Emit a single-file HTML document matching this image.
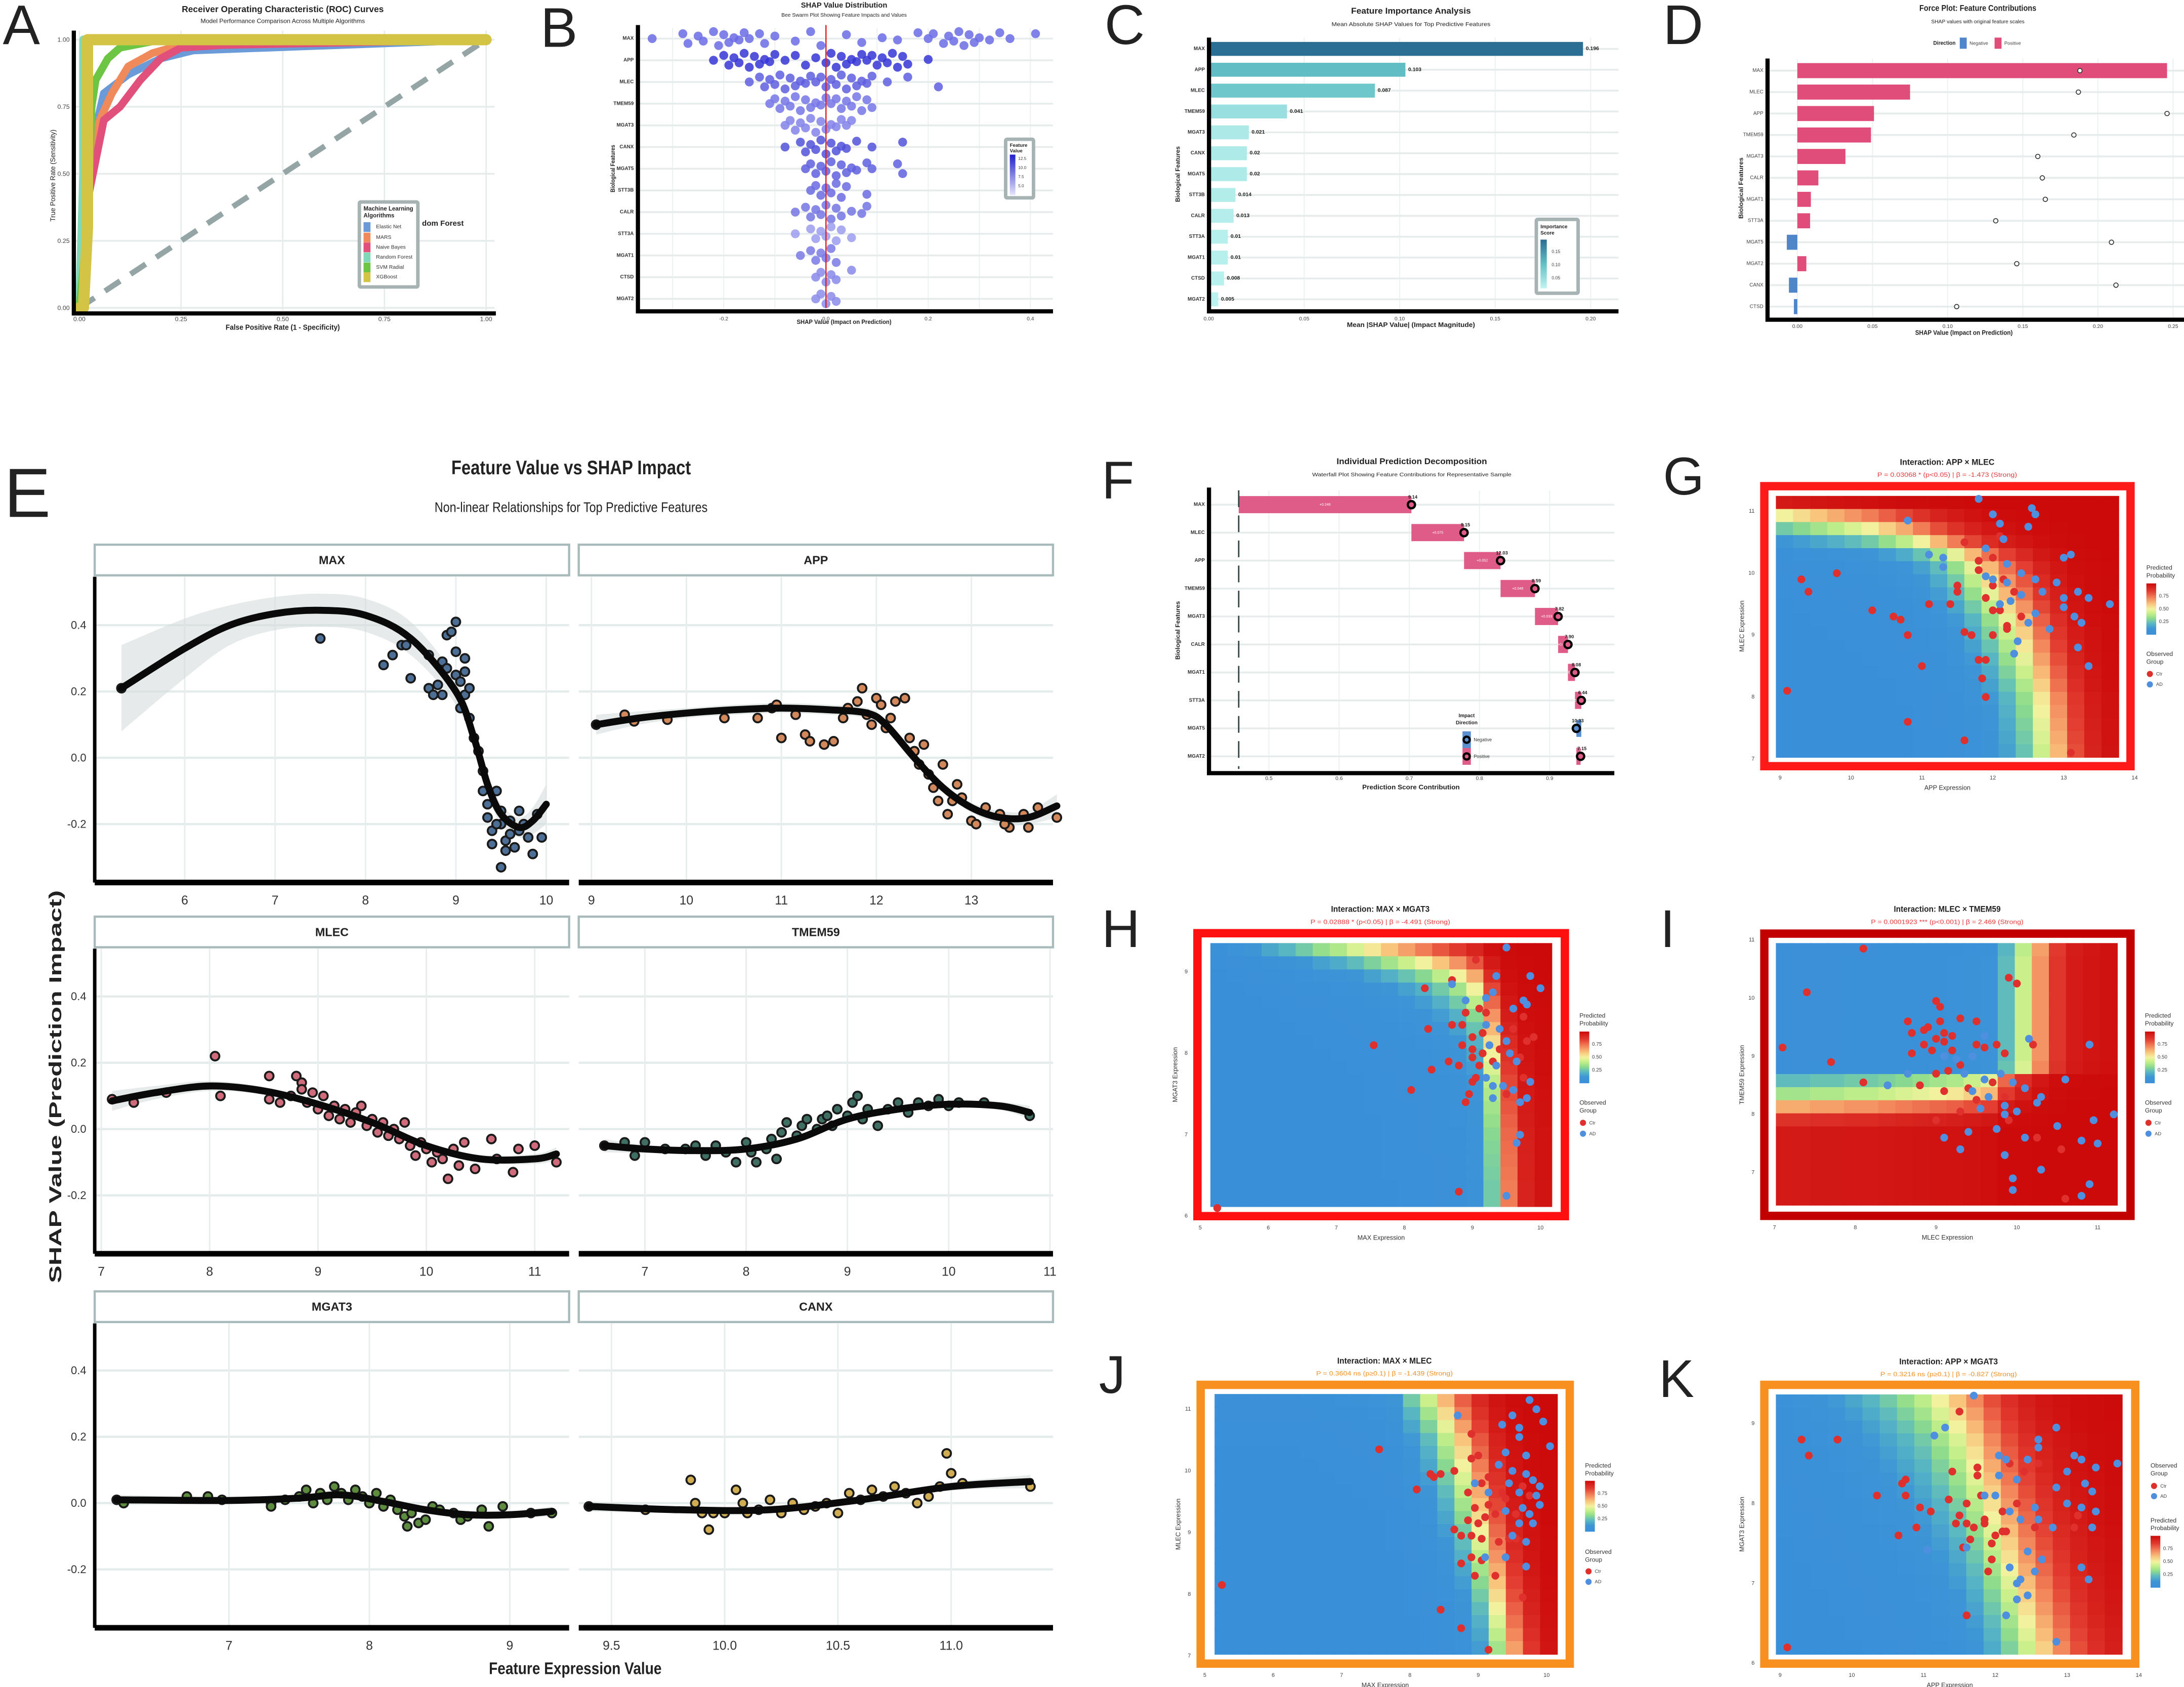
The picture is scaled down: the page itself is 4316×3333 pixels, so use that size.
<!DOCTYPE html>
<html><head><meta charset="utf-8">
<style>html,body{margin:0;padding:0;background:#fff}svg{display:block}text{font-family:"Liberation Sans",sans-serif}</style>
</head><body>
<svg id="fig" xmlns="http://www.w3.org/2000/svg" width="4316" height="3333" viewBox="0 0 1568 1211" preserveAspectRatio="none">
<rect x="0" y="0" width="1568" height="1211" fill="#fff"/>
</svg>
<script>
// ===== DATA =====
// Panel A ROC
const rocNames=['Elastic Net','MARS','Naive Bayes','Random Forest','SVM Radial','XGBoost'];
const rocElasticFpr=[0,0.03,0.06,0.12,0.2,0.28,1], rocElasticTpr=[0,0.6,0.8,0.87,0.93,0.96,1];
const rocMarsFpr=[0,0.03,0.05,0.08,0.12,0.18,0.25,1], rocMarsTpr=[0,0.6,0.7,0.8,0.9,0.95,0.98,1];
const rocNbFpr=[0,0.02,0.04,0.06,0.1,0.15,0.2,0.25,0.35,1], rocNbTpr=[0,0.4,0.55,0.7,0.75,0.85,0.93,0.97,0.98,1];
const rocRfFpr=[0,0.01,0.01,1], rocRfTpr=[0,0.5,1,1];
const rocSvmFpr=[0,0.02,0.03,0.04,0.07,0.1,0.2,1], rocSvmTpr=[0,0.3,0.75,0.85,0.93,0.97,1,1];
const rocXgbFpr=[0,0.01,0.02,0.02,1], rocXgbTpr=[0,0,0.3,1,1];
const rocTicks=[0,0.25,0.5,0.75,1];
// Panel B swarm
const swarmFeatures=['MAX','APP','MLEC','TMEM59','MGAT3','CANX','MGAT5','STT3B','CALR','STT3A','MGAT1','CTSD','MGAT2'];
const swarmVals=[
[-0.34,-0.28,-0.27,-0.25,-0.24,-0.22,-0.21,-0.2,-0.19,-0.18,-0.17,-0.16,-0.15,-0.13,-0.12,-0.1,-0.06,-0.03,-0.01,0.04,0.07,0.11,0.14,0.18,0.2,0.21,0.23,0.24,0.25,0.26,0.27,0.28,0.29,0.3,0.32,0.34,0.36,0.41],
[-0.22,-0.2,-0.19,-0.18,-0.17,-0.16,-0.15,-0.14,-0.13,-0.12,-0.11,-0.1,-0.08,-0.06,-0.04,-0.02,0,0.01,0.02,0.03,0.04,0.05,0.06,0.07,0.08,0.09,0.1,0.11,0.12,0.13,0.14,0.15,0.16,0.2],
[-0.15,-0.13,-0.12,-0.11,-0.1,-0.09,-0.08,-0.07,-0.06,-0.05,-0.04,-0.03,-0.02,-0.01,0,0.01,0.02,0.03,0.04,0.05,0.06,0.07,0.08,0.09,0.12,0.16,0.22],
[-0.11,-0.1,-0.09,-0.08,-0.07,-0.06,-0.05,-0.04,-0.03,-0.02,-0.01,0,0.01,0.02,0.03,0.04,0.05,0.06,0.07,0.08,0.09],
[-0.08,-0.07,-0.06,-0.05,-0.04,-0.03,-0.02,-0.01,0,0.01,0.02,0.03,0.04,0.05],
[-0.08,-0.05,-0.04,-0.03,-0.02,-0.01,0,0.01,0.02,0.03,0.04,0.06,0.09,0.15],
[-0.04,-0.03,-0.02,-0.01,0,0.01,0.02,0.03,0.04,0.05,0.06,0.08,0.09,0.14,0.15],
[-0.03,-0.02,-0.01,0,0.01,0.02,0.03,0.04,0.08],
[-0.06,-0.04,-0.03,-0.02,-0.01,0,0.01,0.02,0.03,0.05,0.07,0.08],
[-0.06,-0.03,-0.02,-0.01,0,0.01,0.02,0.03,0.05],
[-0.05,-0.03,-0.02,-0.01,0,0.01,0.02],
[-0.02,-0.01,0,0.01,0.02,0.05],
[-0.02,-0.01,0,0.01,0.02]];
const swarmTicks=[-0.2,0,0.2,0.4];
// Panel C importance
const impFeatures=['MAX','APP','MLEC','TMEM59','MGAT3','CANX','MGAT5','STT3B','CALR','STT3A','MGAT1','CTSD','MGAT2'];
const impValues=[0.196,0.103,0.087,0.041,0.021,0.02,0.02,0.014,0.013,0.01,0.01,0.008,0.005];
const impLabels=['0.196','0.103','0.087','0.041','0.021','0.02','0.02','0.014','0.013','0.01','0.01','0.008','0.005'];
const impTicks=[0,0.05,0.1,0.15,0.2];
// Panel D force
const forceFeatures=['MAX','MLEC','APP','TMEM59','MGAT3','CALR','MGAT1','STT3A','MGAT5','MGAT2','CANX','CTSD'];
const forceShap=[0.246,0.075,0.051,0.049,0.032,0.014,0.009,0.0085,-0.007,0.006,-0.0056,-0.0023];
const forcePoints=[0.188,0.187,0.246,0.184,0.160,0.163,0.165,0.132,0.209,0.146,0.212,0.106];
const forceTicks=[0,0.05,0.1,0.15,0.2,0.25];
// Panel F waterfall
const wfFeatures=['MAX','MLEC','APP','TMEM59','MGAT3','CALR','MGAT1','STT3A','MGAT5','MGAT2'];
const wfContrib=[0.246,0.075,0.052,0.049,0.033,0.014,0.010,0.009,-0.007,0.006];
const wfFeatVals=['9.14','9.15','12.03','8.59','7.82','7.90','8.08','6.44','10.33','7.15'];
const wfBase=0.457;
const wfTicks=[0.5,0.6,0.7,0.8,0.9];
// Panel E facets
const eMaxPts=[[5.3,0.21],[7.5,0.36],[8.2,0.28],[8.3,0.31],[8.4,0.34],[8.45,0.34],[8.5,0.24],[8.7,0.31],[8.7,0.21],[8.75,0.19],[8.8,0.22],[8.85,0.19],[8.85,0.29],[8.9,0.27],[8.9,0.37],[8.95,0.38],[9.0,0.41],[9.0,0.32],[9.0,0.25],[9.05,0.23],[9.05,0.15],[9.1,0.3],[9.1,0.26],[9.1,0.19],[9.15,0.21],[9.15,0.12],[9.2,0.06],[9.25,0.02],[9.3,-0.04],[9.3,-0.1],[9.35,-0.14],[9.35,-0.18],[9.4,-0.22],[9.4,-0.26],[9.45,-0.1],[9.5,-0.16],[9.5,-0.2],[9.55,-0.25],[9.55,-0.28],[9.6,-0.19],[9.6,-0.23],[9.65,-0.27],[9.7,-0.16],[9.7,-0.22],[9.75,-0.2],[9.8,-0.24],[9.85,-0.29],[9.9,-0.17],[9.95,-0.24],[9.5,-0.33],[9.45,-0.2]];
const eMaxCurve=[[5.3,0.21],[6,0.33],[6.5,0.40],[7,0.435],[7.5,0.445],[8,0.43],[8.5,0.36],[9,0.2],[9.2,0.06],[9.35,-0.08],[9.5,-0.17],[9.7,-0.21],[9.85,-0.19],[10,-0.14]];
const eMaxSe=[0.13,0.09,0.06,0.05,0.05,0.05,0.05,0.04,0.03,0.03,0.03,0.03,0.04,0.06];
const eAppPts=[[9.05,0.1],[9.35,0.13],[9.45,0.11],[9.8,0.115],[10.4,0.12],[10.75,0.12],[10.9,0.15],[10.95,0.16],[11.0,0.06],[11.15,0.13],[11.25,0.07],[11.3,0.05],[11.45,0.04],[11.55,0.05],[11.65,0.12],[11.7,0.15],[11.8,0.17],[11.85,0.21],[11.9,0.13],[11.95,0.1],[12.0,0.18],[12.05,0.16],[12.1,0.09],[12.15,0.12],[12.2,0.17],[12.3,0.18],[12.35,0.06],[12.4,0.02],[12.45,-0.02],[12.5,0.04],[12.55,-0.05],[12.6,-0.09],[12.65,-0.13],[12.7,-0.02],[12.75,-0.17],[12.8,-0.13],[12.9,-0.12],[13.0,-0.19],[13.05,-0.2],[13.15,-0.15],[13.3,-0.17],[13.4,-0.21],[13.55,-0.17],[13.6,-0.21],[13.35,-0.2],[13.7,-0.15],[13.9,-0.18],[12.85,-0.08]];
const eAppCurve=[[9.05,0.1],[9.5,0.12],[10,0.135],[10.5,0.145],[11,0.15],[11.5,0.145],[11.9,0.135],[12.1,0.1],[12.4,0.0],[12.7,-0.09],[13,-0.15],[13.3,-0.18],[13.6,-0.18],[13.9,-0.145]];
const eAppSe=[0.03,0.02,0.015,0.015,0.015,0.015,0.015,0.015,0.015,0.015,0.015,0.02,0.02,0.035];
const eMlecPts=[[7.1,0.09],[7.3,0.08],[7.6,0.11],[8.05,0.22],[8.1,0.1],[8.55,0.16],[8.55,0.09],[8.65,0.08],[8.75,0.1],[8.8,0.16],[8.85,0.14],[8.85,0.12],[8.9,0.08],[8.95,0.11],[9.0,0.06],[9.05,0.1],[9.1,0.04],[9.15,0.07],[9.2,0.03],[9.25,0.06],[9.3,0.02],[9.35,0.05],[9.4,0.07],[9.45,0.01],[9.5,0.03],[9.55,-0.01],[9.6,0.02],[9.65,-0.02],[9.7,0.0],[9.75,-0.03],[9.8,0.02],[9.85,-0.05],[9.9,-0.08],[9.95,-0.04],[10.0,-0.06],[10.05,-0.1],[10.1,-0.07],[10.15,-0.09],[10.2,-0.15],[10.25,-0.06],[10.3,-0.11],[10.35,-0.04],[10.45,-0.12],[10.6,-0.03],[10.65,-0.09],[10.8,-0.13],[10.85,-0.06],[11.0,-0.05],[11.2,-0.1]];
const eMlecCurve=[[7.1,0.085],[7.5,0.11],[8,0.13],[8.5,0.115],[9,0.075],[9.5,0.02],[10,-0.05],[10.5,-0.09],[11,-0.09],[11.2,-0.075]];
const eMlecSe=[0.03,0.02,0.015,0.012,0.01,0.01,0.01,0.012,0.015,0.02];
const eTmemPts=[[6.6,-0.05],[6.8,-0.04],[6.9,-0.08],[7.0,-0.04],[7.2,-0.06],[7.4,-0.06],[7.5,-0.05],[7.6,-0.08],[7.7,-0.05],[7.8,-0.07],[7.9,-0.1],[8.0,-0.04],[8.05,-0.07],[8.1,-0.1],[8.2,-0.06],[8.25,-0.03],[8.3,-0.09],[8.35,-0.01],[8.4,0.02],[8.5,-0.02],[8.55,0.01],[8.6,0.03],[8.7,0.0],[8.75,0.03],[8.8,0.04],[8.85,0.01],[8.9,0.06],[9.0,0.04],[9.05,0.08],[9.1,0.1],[9.15,0.03],[9.2,0.06],[9.3,0.01],[9.4,0.06],[9.5,0.08],[9.6,0.05],[9.7,0.08],[9.8,0.07],[9.9,0.09],[10.0,0.07],[10.1,0.08],[10.35,0.08],[10.8,0.04]];
const eTmemCurve=[[6.6,-0.05],[7,-0.06],[7.5,-0.065],[8,-0.06],[8.5,-0.03],[9,0.03],[9.5,0.06],[10,0.075],[10.5,0.07],[10.8,0.05]];
const eTmemSe=[0.02,0.012,0.01,0.01,0.01,0.01,0.01,0.01,0.012,0.02];
const eMgat3Pts=[[6.2,0.01],[6.25,0.0],[6.7,0.02],[6.85,0.02],[6.95,0.01],[7.3,0.0],[7.3,-0.01],[7.4,0.01],[7.5,0.02],[7.55,0.04],[7.6,0.0],[7.65,0.03],[7.7,0.01],[7.75,0.05],[7.8,0.03],[7.85,0.01],[7.9,0.04],[7.95,0.02],[8.0,0.0],[8.05,0.03],[8.1,-0.01],[8.15,0.01],[8.2,-0.02],[8.25,-0.04],[8.27,-0.07],[8.3,-0.03],[8.35,-0.06],[8.4,-0.05],[8.45,-0.01],[8.5,-0.02],[8.6,-0.03],[8.65,-0.05],[8.7,-0.04],[8.8,-0.02],[8.85,-0.07],[8.95,-0.01],[9.15,-0.03],[9.3,-0.03]];
const eMgat3Curve=[[6.2,0.01],[7,0.008],[7.5,0.015],[7.8,0.025],[8.1,0.005],[8.4,-0.02],[8.7,-0.035],[9.0,-0.035],[9.3,-0.025]];
const eMgat3Se=[0.015,0.01,0.008,0.008,0.008,0.008,0.008,0.01,0.015];
const eCanxPts=[[9.4,-0.01],[9.65,-0.02],[9.85,0.07],[9.87,0.0],[9.9,-0.03],[9.93,-0.08],[9.95,-0.03],[10.0,-0.03],[10.05,0.04],[10.08,0.0],[10.1,-0.03],[10.15,-0.02],[10.2,0.01],[10.25,-0.03],[10.3,0.0],[10.35,-0.02],[10.4,-0.01],[10.45,0.0],[10.5,-0.03],[10.55,0.03],[10.6,0.01],[10.65,0.04],[10.7,0.02],[10.75,0.05],[10.8,0.03],[10.85,0.0],[10.9,0.02],[10.95,0.05],[10.98,0.15],[11.0,0.09],[11.05,0.06],[11.35,0.05]];
const eCanxCurve=[[9.4,-0.01],[9.8,-0.02],[10.2,-0.02],[10.6,0.01],[11.0,0.05],[11.35,0.065]];
const eCanxSe=[0.015,0.01,0.008,0.01,0.012,0.02];
const eYTicks=[0.4,0.2,0.0,-0.2];
// Interaction heatmaps (logit contributions by column / row, top to bottom)
const gColLogit=[-4,-3.8,-3.6,-3.4,-3.2,-3.0,-2.7,-2.4,-2.0,-1.5,-1.0,-0.4,0.2,0.8,1.4,2.2,3.0,4.0,5.0,6.0];
const gRowLogit=[7,4,3,2,0.9,0.3,0,-0.3,-0.6,-0.9,-1.1,-1.3,-1.5,-1.7,-1.9,-2.1,-2.2,-2.3,-2.4,-2.5];
const hColLogit=[-6,-5.5,-5,-4.6,-4.3,-4,-3.7,-3.5,-3.2,-2.9,-2.6,-2.3,-2.0,-1.6,-1.2,-0.6,1,3,4.5,5.5];
const hRowLogit=[3,2,1.2,0.6,0.2,-0.2,-0.5,-0.8,-1,-1.2,-1.4,-1.5,-1.6,-1.7,-1.8,-1.85,-1.9,-1.95,-2,-2];
const iColLogit=[-2.5,-2.5,-2.4,-2.4,-2.3,-2.3,-2.2,-2.1,-2,-1.9,-1.8,-1.6,-1.4,-0.1,0.8,1.9,3,4,4.5,5];
const iRowLogit=[-1.2,-1.1,-1.1,-1.1,-1.1,-1.1,-1.1,-1.1,-1.1,-1,1.3,1.9,3.1,4.5,5.5,5.5,5.5,5.5,5.5,5.5];
const jColLogit=[-6,-6,-6,-6,-6,-5.8,-5.6,-5.4,-5.2,-5,-4.5,-3.5,-2.8,-2,-1.2,-0.2,1,2.3,3.5,5];
const jRowLogit=[2.5,2.2,1.9,1.6,1.4,1.2,1.0,0.8,0.6,0.4,0.2,0,-0.2,-0.4,-0.6,-0.8,-1,-1.2,-1.4,-1.6];
const kColLogit=[-3.4,-3.1,-2.8,-2.5,-2.2,-1.9,-1.6,-1.3,-1.0,-0.6,-0.2,0.3,0.9,1.5,2.1,2.7,3.3,3.9,4.5,5.1];
const kRowLogit=[0.6,0.4,0.2,0.0,-0.15,-0.3,-0.45,-0.6,-0.75,-0.9,-1.05,-1.2,-1.35,-1.5,-1.65,-1.8,-1.95,-2.1,-2.25,-2.4];
const gCtr=[[9.1,8.1],[9.3,9.9],[9.4,9.7],[9.8,10.0],[10.3,9.4],[10.6,9.3],[10.7,9.25],[10.8,9.0],[10.8,7.6],[11.0,8.5],[11.1,9.5],[11.4,9.5],[11.6,7.3],[11.6,10.5],[11.8,10.2],[11.5,9.8],[11.5,9.7],[11.6,9.05],[11.9,9.6],[12.0,9.4],[11.8,8.6],[11.9,8.6],[12.0,9.0],[12.1,9.4],[12.2,9.15],[12.0,9.8],[12.3,9.7],[11.9,8.0],[12.1,10.6],[11.85,8.3],[12.15,9.9],[13.1,7.1],[12.0,10.25],[11.7,9.0],[12.2,9.1],[12.4,9.3],[11.8,10.05]];
const gAd=[[11.8,11.2],[12.0,10.95],[12.55,11.05],[12.6,10.95],[10.8,10.85],[12.1,10.8],[12.5,10.75],[11.3,10.25],[11.1,10.3],[11.3,10.1],[11.9,9.95],[12.0,9.9],[12.2,9.85],[12.4,10.0],[12.6,9.9],[12.7,9.7],[12.9,9.85],[13.0,9.6],[13.2,9.7],[13.35,9.6],[13.15,9.3],[13.25,9.2],[13.0,9.45],[13.65,9.5],[12.1,9.5],[12.25,9.55],[12.4,9.65],[12.6,9.35],[12.35,8.9],[12.3,8.7],[13.2,8.8],[13.35,8.5],[12.8,9.1],[12.5,9.2],[13.0,10.25],[13.1,10.3],[12.2,10.15],[11.9,10.4],[12.15,10.55]];
const hCtr=[[5.25,6.1],[7.55,8.1],[8.35,8.3],[8.4,7.8],[8.1,7.55],[8.7,8.9],[8.7,8.35],[8.9,8.5],[8.3,8.8],[8.65,7.9],[8.8,7.85],[8.85,8.1],[8.85,8.35],[9.0,8.2],[9.0,8.05],[9.0,7.95],[9.1,8.55],[9.2,8.5],[9.15,8.0],[9.15,8.25],[9.3,7.9],[9.1,7.85],[9.0,7.65],[8.95,7.5],[9.05,7.7],[9.6,7.9],[9.8,8.15],[9.75,8.45],[9.6,8.3],[9.4,8.05],[9.9,8.2],[9.05,9.15],[8.8,6.3],[9.5,7.5],[9.75,7.7],[8.9,7.4],[9.7,7.95]];
const hAd=[[9.5,9.3],[9.35,8.95],[9.85,8.95],[10.0,8.8],[8.7,8.85],[8.9,8.65],[9.2,8.68],[9.3,8.75],[9.6,8.55],[9.8,8.6],[9.2,8.35],[9.4,8.3],[9.5,8.15],[9.55,8.0],[9.65,7.9],[9.25,8.1],[9.35,7.85],[9.2,7.7],[9.3,7.6],[9.6,7.55],[9.8,7.45],[9.85,7.65],[9.7,7.4],[9.3,7.45],[9.45,7.6],[9.7,7.0],[9.65,6.9],[9.5,6.25],[9.75,8.65]];
const iCtr=[[8.1,10.85],[7.4,10.1],[7.1,9.15],[7.7,8.9],[8.1,8.55],[9.0,9.95],[9.05,9.85],[8.65,9.6],[8.9,9.5],[9.05,9.6],[8.85,9.45],[9.1,9.4],[9.3,9.65],[9.5,9.6],[9.2,9.35],[9.0,9.3],[8.7,9.4],[9.1,9.25],[8.85,9.2],[8.7,9.05],[8.95,9.1],[9.2,9.1],[9.5,9.2],[9.75,9.2],[9.85,9.05],[9.6,9.15],[9.3,8.85],[9.15,8.75],[9.0,8.7],[8.8,8.5],[9.1,8.4],[9.4,8.45],[9.7,8.55],[9.85,8.3],[9.5,8.25],[9.3,8.05],[9.0,7.9],[9.9,7.9],[10.25,7.6],[10.55,7.4],[10.6,6.55],[9.9,10.35],[10.0,10.25],[10.2,9.2]];
const iAd=[[10.15,9.3],[9.6,9.35],[9.45,9.0],[9.25,8.95],[9.1,9.0],[8.65,8.7],[8.4,8.5],[9.35,8.7],[9.6,8.6],[9.8,8.7],[9.95,8.55],[10.1,8.45],[10.3,8.3],[9.45,8.4],[9.65,8.3],[10.25,8.2],[9.55,8.1],[9.85,8.0],[10.0,8.05],[9.75,7.75],[9.4,7.7],[9.1,7.6],[9.3,7.4],[9.85,7.3],[10.3,7.05],[10.1,7.6],[10.5,7.8],[10.8,7.55],[11.0,7.5],[11.2,8.0],[10.95,7.9],[10.9,9.2],[10.6,8.6],[10.9,6.8],[10.8,6.6],[9.95,6.9],[9.95,6.7],[9.85,8.15]];
const jCtr=[[5.25,8.15],[7.55,10.35],[8.3,9.95],[8.35,9.9],[8.45,9.95],[8.1,9.7],[8.65,10.0],[8.9,10.6],[9.0,10.25],[8.9,10.2],[8.85,9.65],[9.05,9.8],[9.15,9.9],[9.35,9.65],[8.95,9.4],[9.15,9.45],[9.25,9.3],[9.1,9.25],[8.85,9.2],[9.0,9.15],[8.65,9.05],[8.75,8.95],[8.9,8.95],[9.05,8.9],[9.3,8.85],[9.45,8.9],[9.55,8.9],[8.9,8.6],[9.05,8.55],[8.75,8.5],[8.95,8.3],[9.25,8.3],[8.45,7.75],[8.75,7.45],[9.15,7.1],[9.65,7.95],[9.55,9.3],[9.4,9.55],[9.75,9.6],[9.65,9.75]];
const jAd=[[8.7,10.9],[9.5,10.9],[9.75,11.15],[9.85,11.0],[9.95,10.8],[9.35,10.75],[9.6,10.7],[9.6,10.55],[10.05,10.4],[9.4,10.3],[9.7,10.25],[9.3,10.1],[9.5,10.0],[9.7,9.95],[9.8,9.85],[9.9,9.75],[9.45,9.8],[9.6,9.65],[9.85,9.6],[9.9,9.45],[9.65,9.4],[9.4,9.35],[9.75,9.3],[9.6,9.15],[9.8,9.15],[9.5,8.95],[9.7,8.85],[9.4,8.6],[9.7,8.45],[9.1,8.6],[8.95,9.8],[9.15,9.65]];
const kCtr=[[9.1,6.2],[9.3,8.8],[9.8,8.8],[9.4,8.6],[10.35,8.1],[10.65,7.6],[10.75,8.3],[10.7,8.25],[10.75,8.1],[10.9,7.7],[10.95,7.95],[11.1,7.9],[11.35,8.05],[11.5,7.85],[11.45,7.75],[11.5,9.15],[11.4,8.4],[11.6,8.0],[11.65,7.55],[11.7,7.7],[11.75,8.35],[11.75,8.45],[11.8,8.1],[11.85,7.75],[11.6,7.75],[11.55,7.45],[11.95,7.5],[12.1,7.65],[12.15,7.65],[11.95,7.3],[11.9,7.15],[12.0,7.6],[12.2,8.5],[12.1,7.9],[12.3,8.0],[12.4,8.4],[12.6,8.5],[12.55,7.7],[13.1,7.7],[13.15,7.85],[11.6,6.6],[11.85,7.8]];
const kAd=[[11.7,9.35],[11.3,8.95],[11.15,8.85],[12.05,8.6],[12.15,8.55],[12.45,8.55],[12.6,8.7],[12.6,8.8],[12.85,8.95],[13.1,8.6],[13.2,8.55],[13.0,8.4],[13.4,8.45],[13.7,8.5],[13.25,8.25],[13.35,8.15],[12.85,8.2],[13.0,8.0],[13.2,7.95],[13.4,7.9],[13.35,7.7],[12.3,8.3],[12.05,8.35],[12.0,8.1],[11.85,8.1],[12.2,7.9],[12.35,7.8],[12.55,7.95],[12.6,7.8],[12.8,7.7],[12.45,7.4],[12.65,7.3],[12.55,7.15],[12.2,7.2],[12.35,7.05],[13.2,7.2],[13.3,7.05],[12.3,7.0],[12.45,6.85],[12.15,6.6],[12.3,6.8],[12.85,6.27],[11.05,7.42],[11.6,7.45]];

// ===== HELPERS =====
const NS='http://www.w3.org/2000/svg';
const svg=document.getElementById('fig');
function mk(tag,attrs,parent){const e=document.createElementNS(NS,tag);for(const k in attrs)e.setAttribute(k,attrs[k]);(parent||svg).appendChild(e);return e;}
function tx(str,x,y,size,parent,opt){opt=opt||{};const a={x:x,y:y,'font-size':size,'dominant-baseline':'central','text-anchor':opt.anchor||'middle',fill:opt.fill||'#222'};if(opt.bold)a['font-weight']='bold';if(opt.len){a.textLength=opt.len;a.lengthAdjust='spacingAndGlyphs';}if(opt.rot)a.transform='rotate(-90 '+x+' '+y+')';if(opt.family)a['font-family']=opt.family;const e=mk('text',a,parent);e.textContent=str;return e;}
function lin(v,v0,p0,v1,p1){return p0+(v-v0)*(p1-p0)/(v1-v0);}
function grp(parent){return mk('g',{},parent);}
function smooth(pts){let d='M'+pts[0][0].toFixed(2)+','+pts[0][1].toFixed(2);for(let i=0;i<pts.length-1;i++){const p0=pts[i-1]||pts[i],p1=pts[i],p2=pts[i+1],p3=pts[i+2]||p2;const c1=[p1[0]+(p2[0]-p0[0])/6,p1[1]+(p2[1]-p0[1])/6],c2=[p2[0]-(p3[0]-p1[0])/6,p2[1]-(p3[1]-p1[1])/6];d+=' C'+c1[0].toFixed(2)+','+c1[1].toFixed(2)+' '+c2[0].toFixed(2)+','+c2[1].toFixed(2)+' '+p2[0].toFixed(2)+','+p2[1].toFixed(2);}return d;}
function hex(c){return [parseInt(c.slice(1,3),16),parseInt(c.slice(3,5),16),parseInt(c.slice(5,7),16)];}
const probStops=[[0,'#3a8fd9'],[0.12,'#3d95d6'],[0.22,'#5ab8c2'],[0.32,'#8edc8c'],[0.42,'#c8f08a'],[0.5,'#f2f29e'],[0.6,'#f9c47c'],[0.72,'#f2835a'],[0.85,'#e23c30'],[1,'#cc0a0a']];
function probColor(p){for(let i=1;i<probStops.length;i++){if(p<=probStops[i][0]){const a=probStops[i-1],b=probStops[i];const t=(p-a[0])/(b[0]-a[0]);const ca=hex(a[1]),cb=hex(b[1]);return 'rgb('+ca.map((v,k)=>Math.round(v+(cb[k]-v)*t)).join(',')+')';}}return probStops[probStops.length-1][1];}
const defs=mk('defs',{});
const pg=mk('linearGradient',{id:'probGrad',x1:0,y1:1,x2:0,y2:0},defs);
probStops.forEach(s=>mk('stop',{offset:s[0],'stop-color':s[1]},pg));
const bg=mk('linearGradient',{id:'blueGrad',x1:0,y1:1,x2:0,y2:0},defs);
mk('stop',{offset:0,'stop-color':'#e4e4fb'},bg);mk('stop',{offset:1,'stop-color':'#2020c8'},bg);
const tg=mk('linearGradient',{id:'tealGrad',x1:0,y1:1,x2:0,y2:0},defs);
mk('stop',{offset:0,'stop-color':'#c0f4f0'},tg);mk('stop',{offset:0.5,'stop-color':'#62c0c6'},tg);mk('stop',{offset:1,'stop-color':'#2a6c92'},tg);

// Panel letters
const letters=[['A',2,18,40],['B',388,20,40],['C',793,18,40],['D',1194,18,40],['E',3,354,50],['F',791,345,38],['G',1194,342,38],['H',791,667,38],['I',1192,667,38],['J',789,987,38],['K',1191,990,38]];
letters.forEach(L=>{const t=tx(L[0],L[1],L[2],L[3],svg,{anchor:'start'});

});

// ===== PANEL A =====
(function(){
const g=grp();


const X=v=>lin(v,0,57,1,349), Y=v=>lin(v,0,221,1,28.5);
rocTicks.forEach(t=>{const l=mk('line',{x1:X(t),x2:X(t),y1:22,y2:223,stroke:'#e6ecec','stroke-width':1},g);


const l2=mk('line',{x1:53,x2:355,y1:Y(t),y2:Y(t),stroke:'#e6ecec','stroke-width':1.3},g);


const a=tx(t.toFixed(2),X(t),229,4.5,g,{fill:'#444'});


const b=tx(t.toFixed(2),50,Y(t),4.5,g,{anchor:'end',fill:'#444'});

});
const diag=mk('line',{x1:X(0),y1:Y(0),x2:X(1),y2:Y(1),stroke:'#95a5a6','stroke-width':4,'stroke-dasharray':'13 9'},g);


const series=[[rocElasticFpr,rocElasticTpr,'#6a9ad8',5.5],[rocMarsFpr,rocMarsTpr,'#f08a5a',5.5],[rocNbFpr,rocNbTpr,'#e0507a',5.5],[rocRfFpr,rocRfTpr,'#7fd8b8',6],[rocSvmFpr,rocSvmTpr,'#6cc644',5.5],[rocXgbFpr,rocXgbTpr,'#d3c445',8]];
series.forEach((s,i)=>{let d='';s[0].forEach((f,k)=>{d+=(k?'L':'M')+X(f).toFixed(2)+','+Y(s[1][k]).toFixed(2);});
const p=mk('path',{d:d,fill:'none',stroke:s[2],'stroke-width':s[3],'stroke-linejoin':'round','stroke-linecap':'round'},g);

});
const ax=mk('path',{d:'M53,22 V225 H356',fill:'none',stroke:'#000','stroke-width':3},g);


let t=tx('Receiver Operating Characteristic (ROC) Curves',203,6.5,6.5,g,{bold:true,len:145});


t=tx('Model Performance Comparison Across Multiple Algorithms',203,15.5,4.2,g,{len:118});


t=tx('False Positive Rate (1 - Specificity)',203,235,5.5,g,{bold:true,len:82});


t=tx('True Positive Rate (Sensitivity)',38,126,5,g,{rot:true,len:66});


const lb=mk('rect',{x:258,y:145,width:42,height:61,fill:'#fff',stroke:'#a7b3b3','stroke-width':2.5,rx:1},g);


t=tx('Machine Learning',261,150,4.2,g,{anchor:'start',bold:true});


t=tx('Algorithms',261,155,4.2,g,{anchor:'start',bold:true});


const ly=[163,170.5,177.6,184.8,192,199];
series.forEach((s,i)=>{const r=mk('rect',{x:261,y:ly[i]-3.5,width:5,height:7,fill:s[2]},g);


const tt=tx(rocNames[i],270,ly[i],3.8,g,{anchor:'start',fill:'#333'});

});
t=tx('dom Forest',303,160.5,5.5,g,{anchor:'start',bold:true});


})();

// ===== PANEL B =====
(function(){
const g=grp();


const X=v=>593+v*367, Y=i=>27.7+i*15.57;
const jit=[0,-3.5,3.5,-1.8,1.8,-5,5,-2.8,2.8,-0.6,1,-4.2];
const rowColors=['#6b6be6','#3535d6','#5e5ee0','#7676e6','#8282ea','#5252dc','#6060e0','#6a6ae2','#7474e4','#9c9cee','#7a7ae6','#8a8aea','#8c8cea'];
[-0.3,-0.2,-0.1,0,0.1,0.2,0.3,0.4].forEach(t=>{const l=mk('line',{x1:X(t),x2:X(t),y1:20,y2:222,stroke:'#eef2f2','stroke-width':0.8},g);

});
swarmFeatures.forEach((f,i)=>{const l=mk('line',{x1:458,x2:756,y1:Y(i),y2:Y(i),stroke:'#e6ecec','stroke-width':1.3},g);


const t=tx(f,455,Y(i),3.6,g,{anchor:'end',bold:true,fill:'#333'});

});
swarmVals.forEach((row,i)=>{row.forEach((v,k)=>{const c=mk('circle',{cx:X(v).toFixed(2),cy:(Y(i)+jit[k%jit.length]).toFixed(2),r:3.2,fill:rowColors[i],'fill-opacity':0.85},g);

});});
const zl=mk('line',{x1:X(0),x2:X(0),y1:18,y2:221,stroke:'#e02020','stroke-width':0.9},g);


const ax=mk('path',{d:'M458,18 V223.5 H756',fill:'none',stroke:'#000','stroke-width':3},g);


swarmTicks.forEach(t=>{const a=tx(t.toFixed(1),X(t),229,3.8,g,{fill:'#444'});

});
let t=tx('SHAP Value Distribution',606,3.8,5.5,g,{bold:true,len:62});


t=tx('Bee Swarm Plot Showing Feature Impacts and Values',606,11,3.8,g,{len:90});


t=tx('SHAP Value (Impact on Prediction)',606,231,4.5,g,{bold:true,len:68});


t=tx('Biological Features',440,121,4.5,g,{rot:true,bold:true,len:34});


const lb=mk('rect',{x:722,y:100,width:20,height:42,fill:'#fff',stroke:'#a7b3b3','stroke-width':2.5,rx:1},g);


t=tx('Feature',725,104.5,3.5,g,{anchor:'start',bold:true});


t=tx('Value',725,108.5,3.5,g,{anchor:'start',bold:true});


const cb=mk('rect',{x:725,y:111,width:4,height:29,fill:'url(#blueGrad)'},g);


[['12.5',114],['10.0',120.5],['7.5',127],['5.0',133.5]].forEach(L=>{const a=tx(L[0],731,L[1],3,g,{anchor:'start',fill:'#444'});

});
})();

// ===== PANEL C =====
(function(){
const g=grp();


const X=v=>867.8+v*1371, Y=i=>35.1+i*14.98;
function tealColor(v){const s=[[0,'#c0f4f0'],[0.1,'#62c0c6'],[0.2,'#2a6c92']];const p=Math.min(v,0.2);const a=p<=0.1?s[0]:s[1],b=p<=0.1?s[1]:s[2];const tt=(p-a[0])/(b[0]-a[0]);const ca=hex(a[1]),cb=hex(b[1]);return 'rgb('+ca.map((q,k)=>Math.round(q+(cb[k]-q)*tt)).join(',')+')';}
impTicks.forEach(t=>{const l=mk('line',{x1:X(t),x2:X(t),y1:27,y2:222,stroke:'#eef2f2','stroke-width':0.8},g);


const a=tx(t.toFixed(2),X(t),229,3.8,g,{fill:'#444'});

});
impFeatures.forEach((f,i)=>{const l=mk('line',{x1:868,x2:1162,y1:Y(i),y2:Y(i),stroke:'#e6ecec','stroke-width':1.3},g);


const r=mk('rect',{x:868,y:Y(i)-5,width:X(impValues[i])-868,height:10,fill:tealColor(impValues[i])},g);


const v=tx(impLabels[i],X(impValues[i])+2,Y(i),3.8,g,{anchor:'start',bold:true});


const t=tx(f,865,Y(i),3.6,g,{anchor:'end',bold:true,fill:'#333'});

});
const ax=mk('path',{d:'M868,27 V223.5 H1162',fill:'none',stroke:'#000','stroke-width':3},g);


let t=tx('Feature Importance Analysis',1013,8,6,g,{bold:true,len:86});


t=tx('Mean Absolute SHAP Values for Top Predictive Features',1013,17.7,4,g,{len:114});


t=tx('Mean |SHAP Value| (Impact Magnitude)',1013,233,4.8,g,{bold:true,len:92});


t=tx('Biological Features',845.6,125,4.5,g,{rot:true,bold:true,len:40});


const lb=mk('rect',{x:1103,y:157.5,width:30,height:53,fill:'#fff',stroke:'#a7b3b3','stroke-width':2.5,rx:1},g);


t=tx('Importance',1106,163,3.6,g,{anchor:'start',bold:true});


t=tx('Score',1106,167.5,3.6,g,{anchor:'start',bold:true});


const cb=mk('rect',{x:1106,y:172,width:4.5,height:35,fill:'url(#tealGrad)'},g);


[['0.15',180.5],['0.10',190],['0.05',199.5]].forEach(L=>{const a=tx(L[0],1114,L[1],3.2,g,{anchor:'start',fill:'#444'});

});
})();

// ===== PANEL D =====
(function(){
const g=grp();


const X=v=>1290.4+v*1079, Y=i=>50.7+i*15.4;
forceTicks.forEach(t=>{const l=mk('line',{x1:X(t),x2:X(t),y1:42,y2:228,stroke:'#eef2f2','stroke-width':0.8},g);


const a=tx(t.toFixed(2),X(t),234.5,3.8,g,{fill:'#444'});

});
forceFeatures.forEach((f,i)=>{const l=mk('line',{x1:1269,x2:1568,y1:Y(i),y2:Y(i),stroke:'#e6ecec','stroke-width':1.3},g);


const v=forceShap[i];const r=mk('rect',{x:Math.min(X(0),X(v)),y:Y(i)-5.4,width:Math.abs(X(v)-X(0)),height:10.8,fill:v>=0?'#e04d7a':'#4f86c9'},g);


const c=mk('circle',{cx:X(forcePoints[i]),cy:Y(i),r:1.6,fill:'#fff',stroke:'#333','stroke-width':0.6},g);


const t=tx(f,1266,Y(i),3.6,g,{anchor:'end',fill:'#444'});

});
const ax=mk('path',{d:'M1269,42 V229.5 H1568',fill:'none',stroke:'#000','stroke-width':3},g);


let t=tx('Force Plot: Feature Contributions',1420,6,6,g,{bold:true,len:84});


t=tx('SHAP values with original feature scales',1420,15.8,3.8,g,{len:67});


t=tx('SHAP Value (Impact on Prediction)',1410,238.7,4.8,g,{bold:true,len:70});


t=tx('Biological Features',1250,135,4.5,g,{rot:true,bold:true,len:44});


t=tx('Direction',1396,31,4,g,{bold:true,len:16});


let r=mk('rect',{x:1407,y:27,width:5,height:8,fill:'#4f86c9'},g);


t=tx('Negative',1414,31,3.4,g,{anchor:'start',fill:'#444'});


r=mk('rect',{x:1432,y:27,width:5,height:8,fill:'#e04d7a'},g);


t=tx('Positive',1439,31,3.4,g,{anchor:'start',fill:'#444'});


})();

// ===== PANEL E =====
(function(){
const g=grp();


let t=tx('Feature Value vs SHAP Impact',410,336,14,g,{bold:true,len:172});


t=tx('Non-linear Relationships for Top Predictive Features',410,364,10,g,{len:196});


t=tx('SHAP Value (Prediction Impact)',40,780,12.5,g,{rot:true,bold:true,len:282});


t=tx('Feature Expression Value',413,1197.5,12,g,{bold:true,len:124});


const facets=[
{name:'MAX',col:0,row:0,v0:6,p0:132.6,ppu:64.9,ticks:[6,7,8,9,10],dec:0,pts:eMaxPts,curve:eMaxCurve,se:eMaxSe,color:'#4d6f96'},
{name:'APP',col:1,row:0,v0:9,p0:424.6,ppu:68.2,ticks:[9,10,11,12,13],dec:0,pts:eAppPts,curve:eAppCurve,se:eAppSe,color:'#d2885a'},
{name:'MLEC',col:0,row:1,v0:7,p0:72.7,ppu:77.8,ticks:[7,8,9,10,11],dec:0,pts:eMlecPts,curve:eMlecCurve,se:eMlecSe,color:'#cf6b7a'},
{name:'TMEM59',col:1,row:1,v0:7,p0:463,ppu:72.7,ticks:[7,8,9,10,11],dec:0,pts:eTmemPts,curve:eTmemCurve,se:eTmemSe,color:'#3f6e62'},
{name:'MGAT3',col:0,row:2,v0:7,p0:164.4,ppu:100.8,ticks:[7,8,9],dec:0,pts:eMgat3Pts,curve:eMgat3Curve,se:eMgat3Se,color:'#5e8c3e'},
{name:'CANX',col:1,row:2,v0:9.5,p0:439,ppu:162.6,ticks:[9.5,10,10.5,11],dec:1,pts:eCanxPts,curve:eCanxCurve,se:eCanxSe,color:'#d0ad52'}];
const colX=[[68,408.6],[415.5,756]];
const rowTop=[391,658,927], rowZero=[544,810.5,1079], rowBot=[633.5,900,1168.5];
facets.forEach(F=>{
const fg=grp(g);


const x0=colX[F.col][0],x1=colX[F.col][1],top=rowTop[F.row],zero=rowZero[F.row],bot=rowBot[F.row];
const X=v=>F.p0+(v-F.v0)*F.ppu, Y=s=>zero-s*238;
const strip=mk('rect',{x:x0,y:top,width:x1-x0,height:22,fill:'#fff',stroke:'#a9baba','stroke-width':1.6},fg);


let s=tx(F.name,(x0+x1)/2,top+11,8.5,fg,{bold:true});


eYTicks.forEach(v=>{const l=mk('line',{x1:x0,x2:x1,y1:Y(v),y2:Y(v),stroke:'#e4ebeb','stroke-width':1.6},fg);


if(F.col===0){const a=tx(v.toFixed(1),62,Y(v),8,fg,{anchor:'end',fill:'#333'});

}});
F.ticks.forEach(v=>{const l=mk('line',{x1:X(v),x2:X(v),y1:top+23,y2:bot,stroke:'#e8eeee','stroke-width':1.1},fg);


const a=tx(v.toFixed(F.dec),X(v),bot+13,9,fg,{fill:'#333'});

});
const up=F.curve.map((p,i)=>[X(p[0]),Y(p[1]+F.se[i])]);
const lo=F.curve.map((p,i)=>[X(p[0]),Y(p[1]-F.se[i])]).reverse();
const rib=mk('path',{d:smooth(up)+' '+smooth(lo).replace('M','L')+' Z',fill:'#d5dcdc','fill-opacity':0.6},fg);


F.pts.forEach(p=>{const c=mk('circle',{cx:X(p[0]).toFixed(2),cy:Y(p[1]).toFixed(2),r:3.1,fill:F.color,stroke:'#1a1a1a','stroke-width':1.4},fg);

});
const cv=mk('path',{d:smooth(F.curve.map(p=>[X(p[0]),Y(p[1])])),fill:'none',stroke:'#0a0a0a','stroke-width':5,'stroke-linecap':'round'},fg);


const bx=mk('line',{x1:x0,x2:x1,y1:bot,y2:bot,stroke:'#000','stroke-width':4},fg);


if(F.col===0){const ly=mk('line',{x1:x0,x2:x0,y1:top+23,y2:bot,stroke:'#000','stroke-width':2.5},fg);

}
});
})();

// ===== PANEL F =====
(function(){
const g=grp();


const X=v=>911+(v-0.5)*504, Y=i=>362.3+i*20.07;
wfTicks.forEach(t=>{const l=mk('line',{x1:X(t),x2:X(t),y1:352,y2:554,stroke:'#eef2f2','stroke-width':0.8},g);


const a=tx(t.toFixed(1),X(t),559,3.8,g,{fill:'#444'});

});
let cum=wfBase;
wfFeatures.forEach((f,i)=>{const l=mk('line',{x1:868,x2:1159,y1:Y(i),y2:Y(i),stroke:'#e6ecec','stroke-width':1.3},g);


const v=wfContrib[i];const s=cum,e=cum+v;cum=e;
const r=mk('rect',{x:X(Math.min(s,e)),y:Y(i)-6.2,width:Math.abs(X(e)-X(s)),height:12.3,fill:v>=0?'#e05c88':'#5a8fd0'},g);


const lab=tx((v>=0?'+':'')+v.toFixed(3),(X(s)+X(e))/2,Y(i),2.6,g,{fill:'#fff'});


const c=mk('circle',{cx:X(e),cy:Y(i),r:2.6,fill:v>=0?'#e05c88':'#5a8fd0',stroke:'#000','stroke-width':1.6},g);


const fv=tx(wfFeatVals[i],X(e)+1,Y(i)-5.5,3.4,g,{bold:true});


const t=tx(f,865,Y(i),3.6,g,{anchor:'end',bold:true,fill:'#333'});

});
const dl=mk('line',{x1:X(wfBase),x2:X(wfBase),y1:352,y2:552,stroke:'#2f3f3f','stroke-width':1,'stroke-dasharray':'12 6'},g);


const ax=mk('path',{d:'M868,350 V555 H1159',fill:'none',stroke:'#000','stroke-width':3},g);


let t=tx('Individual Prediction Decomposition',1013.6,331.4,6,g,{bold:true,len:108});


t=tx('Waterfall Plot Showing Feature Contributions for Representative Sample',1013.6,341,3.8,g,{len:143});


t=tx('Prediction Score Contribution',1013,565,4.8,g,{bold:true,len:70});


t=tx('Biological Features',845.6,452.5,4.5,g,{rot:true,bold:true,len:42});


t=tx('Impact',1053,514,3.6,g,{bold:true});


t=tx('Direction',1053,519,3.6,g,{bold:true});


[['Negative',531,'#5a8fd0'],['Positive',543,'#e05c88']].forEach(L=>{const r=mk('rect',{x:1050,y:L[1]-6,width:6,height:12,fill:L[2]},g);


const c=mk('circle',{cx:1053,cy:L[1],r:2.2,fill:'none',stroke:'#000','stroke-width':1.6},g);


const tt=tx(L[0],1058,L[1],3.3,g,{anchor:'start',fill:'#333'});

});
})();

// ===== HEATMAPS G-K =====
const heatPanels=[
{id:'g',title:'Interaction: APP × MLEC',sub:'P = 0.03068 * (p<0.05) | β = -1.473 (Strong)',subColor:'#e8383a',frameColor:'#ff1a1a',frame:[1263.7,346.5,1532.6,552.5],heat:[1275,356,1521,543.5],tx:[9,1278,14,1532.6],ty:[11,367,7,544.8],xt:[9,10,11,12,13,14],yt:[7,8,9,10,11],xlab:'APP Expression',ylab:'MLEC Expression',col:gColLogit,row:gRowLogit,ctr:gCtr,ad:gAd,titleY:331.9,cx:1398,leg:{x:1541,pred:407.5,bar:[418.8,455.6],obs:469.5,d1:483.8,d2:491.3}},
{id:'h',title:'Interaction: MAX × MGAT3',sub:'P = 0.02888 * (p<0.05) | β = -4.491 (Strong)',subColor:'#e8383a',frameColor:'#ff1010',frame:[856.7,667.4,1126.5,875.5],heat:[869,677,1114,866],tx:[5,861.7,10,1106],ty:[9,697.7,6,873],xt:[5,6,7,8,9,10],yt:[6,7,8,9],xlab:'MAX Expression',ylab:'MGAT3 Expression',col:hColLogit,row:hRowLogit,ctr:hCtr,ad:hAd,titleY:652.8,cx:991,leg:{x:1134,pred:729,bar:[740.5,777.6],obs:791.5,d1:806,d2:813.8}},
{id:'i',title:'Interaction: MLEC × TMEM59',sub:'P = 0.0001923 *** (p<0.001) | β = 2.469 (Strong)',subColor:'#e8383a',frameColor:'#c20000',frame:[1263.7,667.7,1532.6,875.3],heat:[1275,677,1520,865],tx:[7,1274,11,1506],ty:[11,674.7,7,841.7],xt:[7,8,9,10,11],yt:[7,8,9,10,11],xlab:'MLEC Expression',ylab:'TMEM59 Expression',col:iColLogit,row:iRowLogit,ctr:iCtr,ad:iAd,titleY:652.8,cx:1398,leg:{x:1540,pred:729,bar:[740.5,777.6],obs:791.5,d1:806,d2:813.8}},
{id:'j',title:'Interaction: MAX × MLEC',sub:'P = 0.3604 ns (p≥0.1) | β = -1.439 (Strong)',subColor:'#f39020',frameColor:'#f7901e',frame:[859,991.6,1130,1196.7],heat:[872,1000.7,1118,1187.4],tx:[5,865,10,1110.4],ty:[11,1011.6,7,1188.7],xt:[5,6,7,8,9,10],yt:[7,8,9,10,11],xlab:'MAX Expression',ylab:'MLEC Expression',col:jColLogit,row:jRowLogit,ctr:jCtr,ad:jAd,titleY:977,cx:994,leg:{x:1138,pred:1052,bar:[1063,1099.5],obs:1114,d1:1128,d2:1135.5}},
{id:'k',title:'Interaction: APP × MGAT3',sub:'P = 0.3216 ns (p≥0.1) | β = -0.827 (Strong)',subColor:'#f39020',frameColor:'#f7901e',frame:[1263.7,991.6,1536,1196.7],heat:[1275,1001,1523.5,1187.4],tx:[9,1278,14,1535.6],ty:[9,1021.9,6,1194],xt:[9,10,11,12,13,14],yt:[6,7,8,9],xlab:'APP Expression',ylab:'MGAT3 Expression',col:kColLogit,row:kRowLogit,ctr:kCtr,ad:kAd,titleY:977.5,cx:1399,leg:{x:1544,pred:1091.4,bar:[1102.5,1139.7],obs:1052,d1:1066.7,d2:1074}}];
heatPanels.forEach(P=>{
const g=grp();


const X=v=>lin(v,P.tx[0],P.tx[1],P.tx[2],P.tx[3]), Y=v=>lin(v,P.ty[0],P.ty[1],P.ty[2],P.ty[3]);
const f=P.frame;
const bgr=mk('rect',{x:f[0],y:f[1],width:f[2]-f[0],height:f[3]-f[1],fill:'#fff'},g);


const h=P.heat,nc=P.col.length,nr=P.row.length,cw=(h[2]-h[0])/nc,ch=(h[3]-h[1])/nr;
P.row.forEach((rl,j)=>{P.col.forEach((cl,i)=>{const p=1/(1+Math.exp(-(cl+rl)));
const c=mk('rect',{x:(h[0]+i*cw).toFixed(2),y:(h[1]+j*ch).toFixed(2),width:(cw+0.4).toFixed(2),height:(ch+0.4).toFixed(2),fill:probColor(p)},g);

});});
P.ctr.forEach(p=>{const c=mk('circle',{cx:X(p[0]).toFixed(2),cy:Y(p[1]).toFixed(2),r:2.8,fill:'#e0302e'},g);

});
P.ad.forEach(p=>{const c=mk('circle',{cx:X(p[0]).toFixed(2),cy:Y(p[1]).toFixed(2),r:2.8,fill:'#4f8fdf'},g);

});
const fr=mk('rect',{x:f[0]+3,y:f[1]+2.5,width:f[2]-f[0]-6,height:f[3]-f[1]-5,fill:'none',stroke:P.frameColor,'stroke-width':6},g);


P.xt.forEach(v=>{const a=tx(String(v),X(v),f[3]+6,4,g,{fill:'#444'});

});
P.yt.forEach(v=>{const a=tx(String(v),f[0]-4,Y(v),4,g,{anchor:'end',fill:'#444'});

});
let t=tx(P.xlab,(f[0]+f[2])/2,f[3]+13,4.6,g,{fill:'#333'});


t=tx(P.ylab,f[0]-13,(f[1]+f[3])/2,4.6,g,{rot:true,fill:'#333'});


t=tx(P.title,P.cx,P.titleY,6,g,{bold:true,len:P.title.length*2.95});


t=tx(P.sub,P.cx,P.titleY+9,4.4,g,{fill:P.subColor,len:P.sub.length*2.28});


const L=P.leg;
t=tx('Predicted',L.x,L.pred,4.4,g,{anchor:'start',fill:'#333'});


t=tx('Probability',L.x,L.pred+5.6,4.4,g,{anchor:'start',fill:'#333'});


const cb=mk('rect',{x:L.x,y:L.bar[0],width:7,height:L.bar[1]-L.bar[0],fill:'url(#probGrad)'},g);


[0.75,0.5,0.25].forEach(v=>{const a=tx(v.toFixed(2),L.x+9,L.bar[1]-v*(L.bar[1]-L.bar[0]),3.6,g,{anchor:'start',fill:'#444'});

});
t=tx('Observed',L.x,L.obs,4.4,g,{anchor:'start',fill:'#333'});


t=tx('Group',L.x,L.obs+5.6,4.4,g,{anchor:'start',fill:'#333'});


[['Ctr',L.d1,'#e0302e'],['AD',L.d2,'#4f8fdf']].forEach(D=>{const c=mk('circle',{cx:L.x+2.5,cy:D[1],r:2.2,fill:D[2]},g);


const a=tx(D[0],L.x+7,D[1],3.4,g,{anchor:'start',fill:'#444'});

});
});
</script>
</body></html>
